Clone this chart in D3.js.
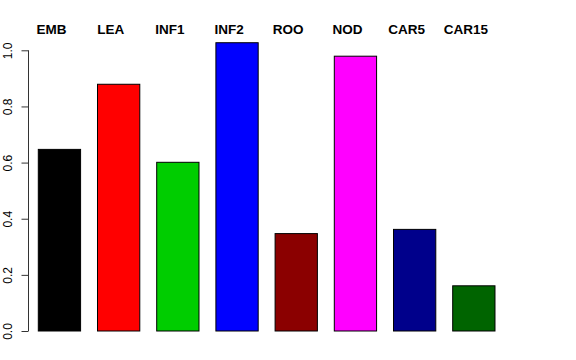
<!DOCTYPE html>
<html>
<head>
<meta charset="utf-8">
<script src="https://cdn.jsdelivr.net/npm/d3@7"></script>
<style>
  body { margin: 0; background: #fff; }
  svg { display: block; font-family: "Liberation Sans", Arial, Helvetica, sans-serif; }
</style>
</head>
<body>
<div id="chart"></div>
<script>
const categories = ['EMB', 'LEA', 'INF1', 'INF2', 'ROO', 'NOD', 'CAR5', 'CAR15'];
const values = [0.647, 0.879, 0.601, 1.027, 0.347, 0.979, 0.362, 0.161];
const colors = ['#000000', '#FF0000', '#00CD00', '#0000FF', '#8B0000', '#FF00FF', '#00008B', '#006400'];
const yTicks = [0, 0.2, 0.4, 0.6, 0.8, 1.0];

const width = 576, height = 360;

const svg = d3.select('#chart')
    .append('svg')
    .attr('width', width)
    .attr('height', height);

// bars: pitch ~59.2px, gap is 0.4 of a bar width (R barplot space)
const pad = 0.4 / 1.4;
const step = 59.2;
const x = d3.scaleBand()
    .domain(categories)
    .range([38.3, 38.3 + step * (categories.length - pad)])
    .paddingInner(pad)
    .paddingOuter(0);

const y = d3.scaleLinear()
    .domain([0, 1])
    .range([331, 50.3]);

svg.append('g')
    .selectAll('rect')
    .data(categories)
    .join('rect')
    .attr('x', d => x(d))
    .attr('y', (d, i) => y(values[i]))
    .attr('width', x.bandwidth())
    .attr('height', (d, i) => y(0) - y(values[i]))
    .attr('fill', (d, i) => colors[i])
    .attr('stroke', '#000')
    .attr('stroke-width', 1);

// y axis, R style: rotated labels
const yAxis = d3.axisLeft(y)
    .tickValues(yTicks)
    .tickFormat(d3.format('.1f'))
    .tickSize(7);

const ax = svg.append('g')
    .attr('transform', 'translate(28.5,0)')
    .call(yAxis);

ax.select('.domain')
    .attr('d', `M-0,${y(0)}V${y(1)}`)
    .attr('stroke', '#333');
ax.selectAll('.tick line').attr('stroke', '#333');
ax.selectAll('.tick text')
    .attr('font-size', 12)
    .attr('font-family', '"Liberation Sans", Arial, sans-serif')
    .attr('fill', '#000')
    .attr('text-anchor', 'middle')
    .attr('dy', 0)
    .attr('x', 0)
    .attr('transform', 'translate(-16.5,0) rotate(-90)');

// category labels on top
svg.append('g')
    .selectAll('text')
    .data(categories)
    .join('text')
    .attr('x', d => x(d) + x.bandwidth() / 2 - 8)
    .attr('y', 34)
    .attr('text-anchor', 'middle')
    .attr('font-weight', 'bold')
    .attr('font-size', 13.5)
    .text(d => d);
</script>
</body>
</html>
